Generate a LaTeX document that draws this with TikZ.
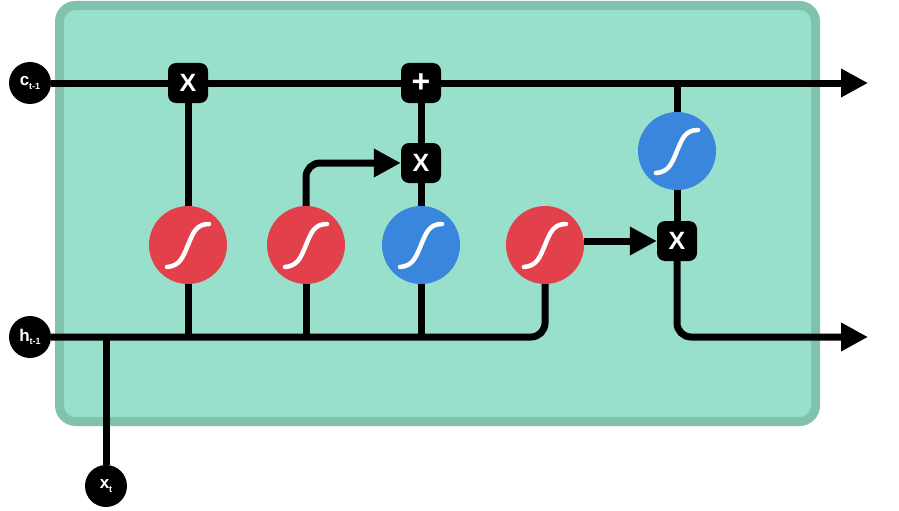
\documentclass[tikz,border=0pt]{standalone}
\usepackage{fontspec}
\setmainfont{Liberation Sans}
\usetikzlibrary{arrows.meta}
\definecolor{cellfill}{HTML}{99E0CC}
\definecolor{cellborder}{HTML}{80C2AE}
\definecolor{sigred}{HTML}{E2404B}
\definecolor{sigblue}{HTML}{3A86DC}
\newcommand\sgmglyph[1]{\draw[white, line width=4.5pt, line cap=round, shift={(#1.center)}] (-21,22) .. controls (-8,21) and (-5,12) .. (0,0) .. controls (5,-12) and (8,-21) .. (21,-21);}
\newcommand\subtxt[2]{#1\raisebox{-0.4ex}{\fontsize{9}{9}\selectfont #2}}
\begin{document}
\begin{tikzpicture}[x=1pt,y=-1pt,
  conn/.style={line width=7pt, black},
  arr/.style={conn, -{Triangle[length=27pt,width=27pt]}},
  opbox/.style={fill=black, rounded corners=8pt, minimum size=40pt, inner sep=0pt, text=white, font=\bfseries\fontsize{25}{25}\selectfont},
  sig/.style={circle, minimum size=78pt, inner sep=0pt},
  inpt/.style={circle, fill=black, minimum size=42pt, inner sep=0pt, text=white, font=\bfseries\fontsize{17}{17}\selectfont}
]
\useasboundingbox (0,0) rectangle (899,511);
\draw[cellborder, fill=cellfill, line width=9pt, rounded corners=16pt] (59.5,5.5) rectangle (815.5,421.5);

% inputs
\node[inpt] (c) at (30,83) {\subtxt{c}{t-1}};
\node[inpt] (h) at (30,337) {\subtxt{h}{t-1}};
\node[inpt] (xt) at (106,486) {\subtxt{x}{t}};

% operators
\node[opbox] (x1) at (188,83) {X};
\node[opbox, font=\bfseries\fontsize{32}{32}\selectfont] (plus) at (421,83) {+};
\node[opbox] (x2) at (421,163) {X};
\node[opbox] (x3) at (677,241) {X};

% sigmoid / tanh layers
\node[sig, fill=sigred] (s1) at (188,245) {};
\node[sig, fill=sigred] (s2) at (306,245) {};
\node[sig, fill=sigblue] (s3) at (421,245) {};
\node[sig, fill=sigred] (s4) at (545,245) {};
\node[sig, fill=sigblue] (b2) at (677,151) {};

\coordinate (cout) at (868,83);
\coordinate (hout) at (868,337);

% cell state line
\draw[conn] (c) -- (x1);
\draw[conn] (x1) -- (plus);
\draw[arr] (plus) -- (cout);

% hidden line
\draw[conn, rounded corners=14pt] (h) -- (h -| s4) -- (s4);
\draw[conn] (xt) -- (xt |- h);

% gate connections
\draw[conn] (x1) -- (s1);
\draw[conn] (s1) -- (s1 |- h);
\draw[conn] (s2) -- (s2 |- h);
\draw[arr, rounded corners=14pt] (s2) -- (s2 |- x2) -- (x2);
\draw[conn] (s3) -- (s3 |- h);
\draw[conn] (s3) -- (x2);
\draw[conn] (x2) -- (plus);
\draw[arr] (s4.east |- x3) -- (x3);
\draw[conn] (b2 |- c) -- (b2);
\draw[conn] (b2) -- (x3);
\draw[arr, rounded corners=14pt] (x3) -- (x3 |- hout) -- (hout);

% glyphs
\sgmglyph{s1}
\sgmglyph{s2}
\sgmglyph{s3}
\sgmglyph{s4}
\sgmglyph{b2}
\end{tikzpicture}
\end{document}
